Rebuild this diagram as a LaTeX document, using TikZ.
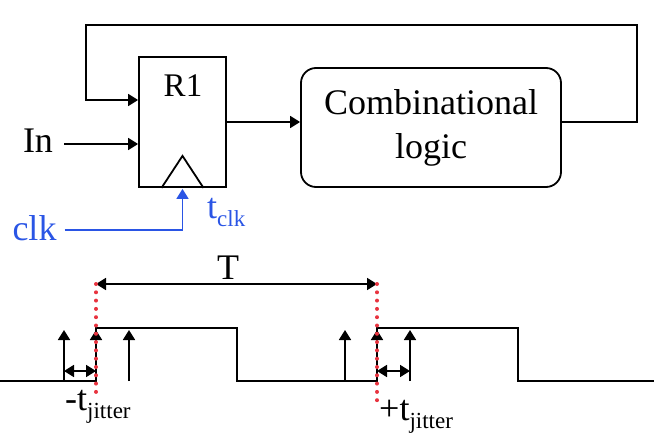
\documentclass[tikz,border=0pt]{standalone}
\usepackage{fontspec}
\setmainfont{Liberation Serif}
\usetikzlibrary{arrows.meta,positioning,calc}
\definecolor{ClkBlue}{HTML}{2A55E5}
\definecolor{EdgeRed}{HTML}{E8333F}
\newcommand{\subtxt}[1]{\raisebox{-8pt}{\fontsize{23}{23}\selectfont #1}}
\tikzset{reg/.style={draw,line width=1.8pt,minimum width=87pt,minimum height=130pt,
    inner sep=0pt},
  logic/.style={draw,line width=1.8pt,rounded corners=15pt,minimum width=260pt,
    minimum height=119pt,align=center,font=\fontsize{36}{44}\selectfont},
  lbl/.style={inner sep=0pt,font=\fontsize{36}{44}\selectfont},
  wire/.style={line width=1.8pt,-{Triangle[length=10pt,width=12pt]}},
  plainwire/.style={line width=1.8pt},
  span/.style={line width=1.8pt,
    {Triangle[length=10pt,width=12pt]}-{Triangle[length=10pt,width=12pt]}},
  edgeline/.style={draw=EdgeRed,line width=4pt,line cap=round,
    dash pattern=on 0pt off 8.3pt}}

\begin{document}
\begin{tikzpicture}[x=1pt,y=-1pt]
  \useasboundingbox (0,0) rectangle (654,436);
  % circuit
  \node[reg] (r1) at (182.5,122) {};
  \node[lbl,font=\fontsize{33}{38}\selectfont,anchor=base] (r1name) at (183,97) {R1};
  \node[logic] (logic) at (431,127.5) {Combinational\\logic};
  \node[lbl,anchor=base] (in) at (38,152) {In};
  \node[lbl,anchor=base,text=ClkBlue] (clk) at (34.5,240) {clk};
  \node[lbl,anchor=base west,text=ClkBlue] (tclk) at (207,218) {t\subtxt{clk}};
  \coordinate (fbpin) at ($(r1.west)+(0,-22)$);
  \coordinate (inpin) at ($(r1.west)+(0,22)$);
  \coordinate (clkpin) at ($(r1.south)+(0,1)$);
  \coordinate (loopR) at (637,25);
  \coordinate (loopL) at (86,100);
  \draw[line width=1.8pt] ($(r1.south)+(-21,0)$) -- ++(21,-32) -- ++(21,32);
  \draw[wire] ($(in.east |- inpin)+(11,0)$) -- (inpin);
  \draw[wire] (r1.east) -- (r1.east -| logic.west);
  \draw[wire] (logic.east |- r1.east) -| (loopR) -| (loopL) -- (fbpin);
  \draw[wire,draw=ClkBlue] ($(clk.east |- 0,230)+(8,0)$) -| (clkpin);
  % clock waveform
  \coordinate (rise1) at (96,381);
  \coordinate (rise2) at (377,381);
  \draw[plainwire] (0,381) -- (rise1) -- (96,328) -- (237,328) -- (237,381)
    -- (rise2) -- (377,328) -- (518,328) -- (518,381) -- (654,381);
  \foreach \x in {64,96,129,345,377,410}
    \draw[wire] (\x,381) -- (\x,330);
  \draw[span] (64,371) -- (rise1 |- 0,371);
  \draw[span] (rise2 |- 0,371) -- (410,371);
  \coordinate (per1) at (96,284);
  \coordinate (per2) at (377,284);
  \draw[span] (per1) -- (per2);
  \node[lbl,anchor=base] (period) at (228,279) {T};
  \draw[edgeline] (per1) -- (96,400);
  \draw[edgeline] (per2) -- (377,408);
  \node[lbl,anchor=base west] (jitm) at (65,410) {-t\subtxt{jitter}};
  \node[lbl,anchor=base west] (jitp) at (379,420) {+t\subtxt{jitter}};
\end{tikzpicture}
\end{document}
